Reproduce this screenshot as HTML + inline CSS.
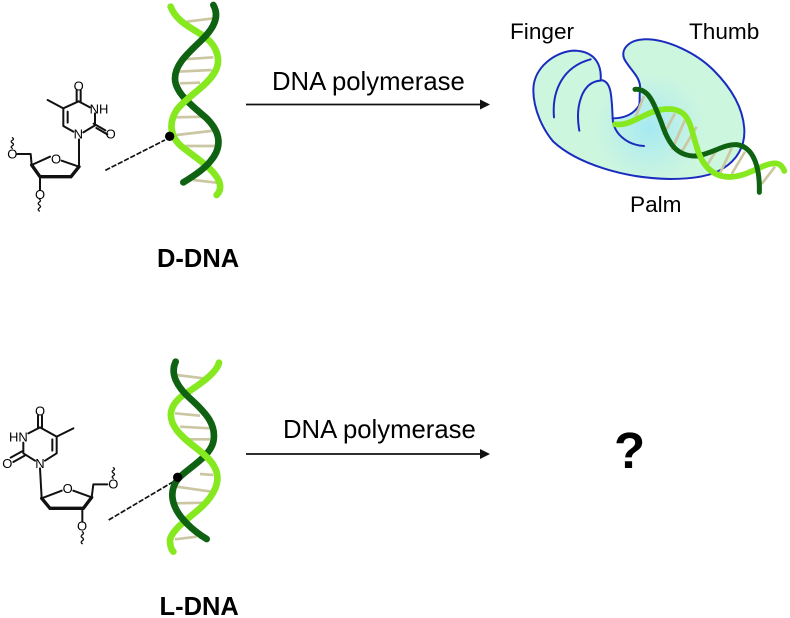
<!DOCTYPE html>
<html>
<head>
<meta charset="utf-8">
<style>
html,body{margin:0;padding:0;background:#fff}
svg{display:block}
text{font-family:"Liberation Sans",sans-serif;fill:#000}
.b{stroke:#111;stroke-width:6;fill:none;stroke-linecap:round;stroke-linejoin:round}
.bb{stroke:#111;stroke-width:10;fill:none;stroke-linecap:round}
.a{font-size:39px;text-anchor:middle}
.r{stroke:#cbc7a2;stroke-width:8;fill:none}
.lg{stroke:#86e81e;stroke-width:20;fill:none;stroke-linecap:round}
.dg{stroke:#0f6212;stroke-width:20;fill:none;stroke-linecap:round}
</style>
</head>
<body>
<svg width="790" height="618" viewBox="0 0 790 618" xmlns="http://www.w3.org/2000/svg">
<defs>
<radialGradient id="g" gradientUnits="userSpaceOnUse" cx="450" cy="355" r="170">
<stop offset="0" stop-color="#a6e9f2"/>
<stop offset="0.6" stop-color="#c0f1e6"/>
<stop offset="1" stop-color="#cdf6de"/>
</radialGradient>
</defs>
<rect width="790" height="618" fill="#fff"/>

<!-- D-nucleoside and helix -->
<g transform="scale(0.33333)">
<path class="b" d="M230,305V271M242,305V271M236,304L270,322M285,340V376M285,376L250,397M281,371L316,391M289,384L322,403M220,395L190,378V325L236,304M203,368V335M190,325L143,300M237,418V500L185,482M150,470L95,495M95,495L92,462H52M120,530V570"/>
<path class="bb" d="M95,495L120,530H213L237,500"/>
<path class="b" style="stroke-width:4" d="M37,445q-7,-4 0,-8q7,-4 0,-8q-7,-4 0,-8q7,-4 0,-8M118,597q7,5 0,9q-7,5 0,9q7,5 0,9q-7,5 0,9"/>
<text class="a" x="236" y="271">O</text>
<text class="a" x="297" y="340">NH</text>
<text class="a" x="332" y="416">O</text>
<text class="a" x="235" y="416">N</text>
<text class="a" x="168" y="490">O</text>
<text class="a" x="37" y="476">O</text>
<text class="a" x="120" y="597">O</text>
<path d="M316,511L495,420" stroke="#111" stroke-width="5" stroke-dasharray="16,5" fill="none"/>
<path class="r" d="M560,65L640,55M640,172L550,178M530,215L635,210M540,250L600,248M525,352L625,350M530,405L640,392M535,438L650,438M580,540L650,548"/>
<path class="lg" d="M512,20C530,70 590,90 620,115C650,140 665,180 645,215C620,260 560,290 530,330C505,370 510,410 545,440C590,475 655,515 660,555C662,570 655,580 650,585"/>
<path class="dg" d="M640,15C660,50 640,85 610,115C570,155 525,190 525,235C525,280 580,320 620,355C660,395 670,440 630,485C610,510 570,535 550,547"/>
<path class="lg" style="stroke-linecap:butt" d="M645,215C620,260 560,290 530,330"/>
<circle cx="509" cy="409" r="14" fill="#000"/>
</g>

<!-- Labels top -->
<text x="157" y="267" font-size="25.5" font-weight="bold">D-DNA</text>
<text x="272" y="90" font-size="25.7">DNA polymerase</text>
<path d="M246,104.5H481" stroke="#111" stroke-width="1.8"/>
<path d="M480,99.5L490,104.5L480,109.5Z" fill="#111"/>

<!-- Polymerase -->
<g transform="translate(500,10) scale(0.33333)">
<path d="M338,325C335,260 335,212 302,210C305,170 290,125 225,122C170,122 100,170 100,240C100,300 130,360 160,395C230,460 370,505 510,507C590,507 640,495 670,475C710,450 735,410 733,360C730,290 690,230 640,180C590,130 500,85 430,88C390,90 362,115 372,145C385,175 425,200 420,240C418,255 420,270 418,285C400,315 370,325 338,325Z" fill="url(#g)" stroke="#1a2cc0" stroke-width="6" stroke-linejoin="round"/>
<path d="M338,325C340,370 380,405 432,408M162,322C155,240 190,170 272,148M238,362C225,290 245,215 302,212" fill="none" stroke="#1a2cc0" stroke-width="6" stroke-linecap="round"/>
<path class="r" d="M432,258L405,325M525,310L490,375M555,330L515,420M590,350L545,425M650,420L615,475M695,415L660,490M735,425L695,492M825,470L785,522"/>
<path class="lg" style="stroke-width:17" d="M345,343C400,350 440,295 510,297C570,300 570,350 590,410C610,480 650,505 700,500C750,495 790,460 825,460C840,460 848,470 853,483"/>
<path class="dg" style="stroke-width:15" d="M405,238C450,235 465,290 485,340C505,400 530,440 590,438C640,430 670,402 710,404C760,410 780,470 778,547"/>
<path class="lg" style="stroke-width:17;stroke-linecap:butt" d="M590,410C610,480 650,505 700,500"/>
</g>
<text x="510" y="39" font-size="22.6">Finger</text>
<text x="689" y="39" font-size="22.6">Thumb</text>
<text x="630" y="212" font-size="22.6">Palm</text>

<!-- L-nucleoside and helix -->
<g transform="translate(0,350) scale(0.33333)">
<path class="b" d="M114,232V197M126,232V197M85,250L120,232L170,260V310L135,332M157,268V302M105,332L70,310V278M66,304L32,323M74,317L40,336M170,260L220,235M120,355L125,445L185,422M220,422L275,442L280,403H322M247,475V515"/>
<path class="bb" d="M125,445L150,475H250L275,442"/>
<path class="b" style="stroke-width:4" d="M340,385q-7,-4 0,-8q7,-4 0,-8q-7,-4 0,-8q7,-4 0,-8M247,545q7,5 0,9q-7,5 0,9q7,5 0,9q-7,5 0,9"/>
<text class="a" x="120" y="197">O</text>
<text class="a" x="55" y="275">HN</text>
<text class="a" x="22" y="354">O</text>
<text class="a" x="120" y="354">N</text>
<text class="a" x="203" y="429">O</text>
<text class="a" x="340" y="415">O</text>
<text class="a" x="246" y="542">O</text>
<path d="M326,510L520,395" stroke="#111" stroke-width="5" stroke-dasharray="16,5" fill="none"/>
<path class="r" d="M530,75L610,85M525,190L600,197M540,230L630,235M560,268L630,268M600,372L640,375M530,410L635,425M525,460L620,458M525,568L590,560"/>
<path class="lg" d="M657,38C650,70 590,110 550,135C510,165 500,200 530,240C560,280 620,310 640,345C670,390 640,440 600,475C560,510 515,540 510,570C510,590 515,600 520,605"/>
<path class="dg" d="M527,35C510,70 530,110 570,145C620,190 650,225 640,275C630,320 570,350 535,385C500,430 520,480 560,520C580,540 600,555 620,567"/>
<path class="lg" style="stroke-linecap:butt" d="M530,240C560,280 620,310 640,345"/>
<circle cx="533" cy="382" r="14" fill="#000"/>
</g>

<!-- Labels bottom -->
<text x="159.5" y="615" font-size="25.5" font-weight="bold">L-DNA</text>
<text x="283" y="438" font-size="25.7">DNA polymerase</text>
<path d="M246,454H481" stroke="#111" stroke-width="1.8"/>
<path d="M480,449L490,454L480,459Z" fill="#111"/>
<text x="614" y="468" font-size="51" font-weight="bold">?</text>
</svg>
</body>
</html>
